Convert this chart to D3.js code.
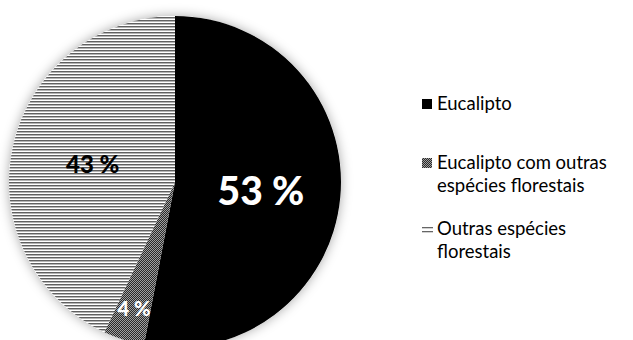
<!DOCTYPE html>
<html><head><meta charset="utf-8">
<script src="https://cdn.jsdelivr.net/npm/d3@7"></script>
<style>body{margin:0;background:#fff}svg{display:block}</style>
</head><body>
<svg id="c" width="633" height="340"></svg>
<script>
const categories = ["Eucalipto", "Eucalipto com outras espécies florestais", "Outras espécies florestais"];
const values = [53, 4, 43];
const sliceLabels = ["53 %", "4 %", "43 %"];
const legendLines = [["Eucalipto"], ["Eucalipto com outras", "espécies florestais"], ["Outras espécies", "florestais"]];

const svg = d3.select("#c");
const defs = svg.append("defs");
const FONT = "Lato, 'Open Sans', sans-serif";

// patterns
const pl = defs.append("pattern").attr("id","lines").attr("patternUnits","userSpaceOnUse").attr("width",4).attr("height",3);
pl.append("rect").attr("width",4).attr("height",3).attr("fill","#fff");
pl.append("rect").attr("y",0).attr("width",4).attr("height",1).attr("fill","#606060");
pl.append("rect").attr("y",1).attr("width",4).attr("height",1).attr("fill","#b4b4b4");

const pc = defs.append("pattern").attr("id","check").attr("patternUnits","userSpaceOnUse").attr("width",2).attr("height",2);
pc.append("rect").attr("width",2).attr("height",2).attr("fill","#a0a0a0");
pc.append("rect").attr("width",1).attr("height",1).attr("fill","#2a2a2a");
pc.append("rect").attr("x",1).attr("y",1).attr("width",1).attr("height",1).attr("fill","#2a2a2a");

const f = defs.append("filter").attr("id","shadow").attr("x","-20%").attr("y","-20%").attr("width","140%").attr("height","140%");
f.append("feDropShadow").attr("dx",0).attr("dy",0).attr("stdDeviation",6).attr("flood-color","#000").attr("flood-opacity",0.35);

const fills = ["#000", "url(#check)", "url(#lines)"];
const labelColors = ["#fff", "#fff", "#000"];

const cx = 175, cy = 182, r = 166;
const pie = d3.pie().sort(null).value(d => d)(values);
const arc = d3.arc().innerRadius(0).outerRadius(r);

const g = svg.append("g").attr("transform", `translate(${cx},${cy})`);
g.append("circle").attr("r", r).attr("fill","#fff").attr("filter","url(#shadow)");
g.selectAll("path.slice").data(pie).join("path").attr("class","slice")
  .attr("d", arc).attr("fill", (d,i) => fills[i]);

const labelArcs = [d3.arc().innerRadius(r*0.52).outerRadius(r*0.52),
                   d3.arc().innerRadius(r*0.80).outerRadius(r*0.80),
                   d3.arc().innerRadius(r*0.52).outerRadius(r*0.52)];
const labelSizes = [39, 20, 24];
const labelDx = [0, 0, 2];
g.selectAll("text.lbl").data(pie).join("text").attr("class","lbl")
  .attr("transform", (d,i) => { const c = labelArcs[i].centroid(d); return `translate(${c[0]+labelDx[i]},${c[1]})`; })
  .attr("text-anchor","middle").attr("dominant-baseline","central")
  .attr("font-family", FONT).attr("font-weight","900")
  .attr("font-size", (d,i) => labelSizes[i]).attr("fill", (d,i) => labelColors[i])
  .text((d,i) => sliceLabels[i]);

// legend
const legY = d3.scaleOrdinal().domain(categories).range([110, 169, 235]);
const leg = svg.append("g");
const items = leg.selectAll("g").data(categories).join("g")
  .attr("transform", d => `translate(422,${legY(d)})`);
items.each(function(d, i) {
  const s = d3.select(this);
  if (i === 0) s.append("rect").attr("x",0).attr("y",-11).attr("width",10).attr("height",10).attr("fill","#000");
  if (i === 1) s.append("rect").attr("x",0).attr("y",-11).attr("width",10).attr("height",10).attr("fill","url(#check)");
  if (i === 2) {
    s.append("rect").attr("x",0).attr("y",-8).attr("width",11).attr("height",1.3).attr("fill","#666");
    s.append("rect").attr("x",0).attr("y",-4).attr("width",11).attr("height",1.3).attr("fill","#666");
  }
  const t = s.append("text").attr("x",15).attr("y",0).attr("font-family",FONT).attr("font-size",18.5).attr("fill","#000");
  legendLines[i].forEach((ln, k) => t.append("tspan").attr("x",15).attr("dy", k===0?0:22.5).text(ln));
});
</script>
</body></html>
